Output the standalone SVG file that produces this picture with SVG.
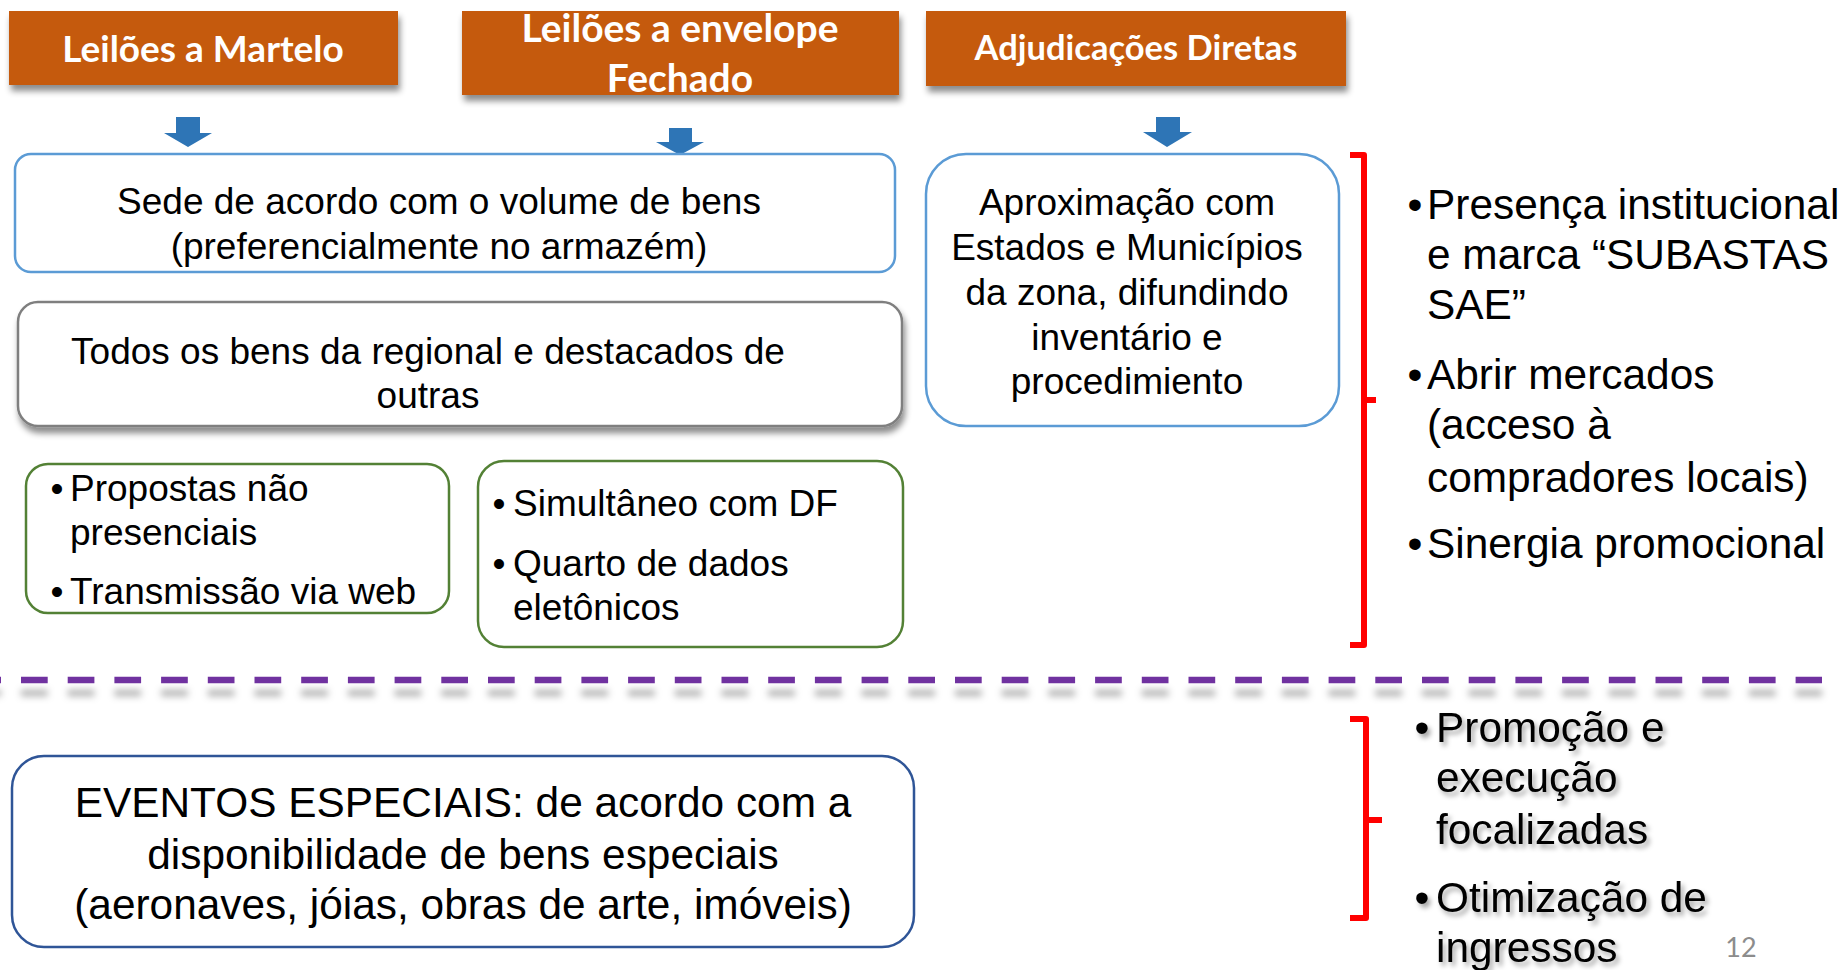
<svg xmlns="http://www.w3.org/2000/svg" width="1845" height="970" viewBox="0 0 1845 970">
<style>
.hdr{fill:#C55A11}
.ht{font-family:Lato,"Liberation Sans",sans-serif;font-weight:bold;fill:#FFFFFF;text-anchor:middle}
.t{font-family:"Liberation Sans",Arial,sans-serif;font-size:37px;fill:#000}
.tl{font-family:"Liberation Sans",Arial,sans-serif;font-size:42.4px;fill:#000}
.c{text-anchor:middle}
.arrow{fill:#2E75B6}
.br{fill:none;stroke:#FF0000;stroke-width:6;stroke-linejoin:round}
</style>
<defs>
<filter id="sh" x="-10%" y="-30%" width="120%" height="170%">
<feDropShadow dx="2" dy="6" stdDeviation="3" flood-color="#000" flood-opacity="0.45"/>
</filter>
<filter id="lsh" filterUnits="userSpaceOnUse" x="-40" y="660" width="1900" height="50">
<feDropShadow dx="0" dy="13" stdDeviation="3.5" flood-color="#000" flood-opacity="0.3"/>
</filter>
<filter id="tsh" x="-10%" y="-10%" width="120%" height="130%">
<feDropShadow dx="3" dy="4" stdDeviation="2.5" flood-color="#000" flood-opacity="0.35"/>
</filter>
</defs>
<rect width="1845" height="970" fill="#FFFFFF"/>

<g id="hdr-martelo">
<rect class="hdr" x="9" y="11" width="389" height="74" filter="url(#sh)"/>
<text class="ht" x="203" y="62" font-size="37">Leilões a Martelo</text>
</g>
<g id="hdr-envelope">
<rect class="hdr" x="462" y="11" width="437" height="84" filter="url(#sh)"/>
<text class="ht" x="680" y="42" font-size="39">Leilões a envelope</text>
<text class="ht" x="680" y="92" font-size="39">Fechado</text>
</g>
<g id="hdr-adjudicacoes">
<rect class="hdr" x="926" y="11" width="420" height="75" filter="url(#sh)"/>
<text class="ht" x="1136" y="60" font-size="34.5">Adjudicações Diretas</text>
</g>

<g id="connectors">
<path class="arrow" d="M176,117 H200 V133 H212 L188,147 L164,133 H176 Z"/>
<path class="arrow" d="M669,128 H692 V142 H704 L680,155 L656,142 H669 Z"/>
<path class="arrow" d="M1156,117 H1180 V132 H1192 L1167,147 L1143,132 H1156 Z"/>
</g>

<g id="sede">
<rect x="15" y="154" width="880" height="118" rx="16" fill="#FFFFFF" stroke="#5B9BD5" stroke-width="2.5"/>
<text class="t c" x="439" y="214">Sede de acordo com o volume de bens</text>
<text class="t c" x="439" y="259">(preferencialmente no armazém)</text>
</g>

<g id="todos">
<rect x="18" y="302" width="884" height="124" rx="20" fill="#FFFFFF" stroke="#7F7F7F" stroke-width="2.5" filter="url(#sh)"/>
<text class="t c" x="428" y="364">Todos os bens da regional e destacados de</text>
<text class="t c" x="428" y="408">outras</text>
</g>

<g id="propostas">
<rect x="26" y="464" width="423" height="149" rx="22" fill="#FFFFFF" stroke="#538135" stroke-width="2.5"/>
<text class="t c" x="57" y="501">•</text>
<text class="t" x="70" y="501">Propostas não</text>
<text class="t" x="70" y="545">presenciais</text>
<text class="t c" x="57" y="604">•</text>
<text class="t" x="70" y="604">Transmissão via web</text>
</g>

<g id="simultaneo">
<rect x="478" y="461" width="425" height="186" rx="26" fill="#FFFFFF" stroke="#538135" stroke-width="2.5"/>
<text class="t c" x="499" y="516">•</text>
<text class="t" x="513" y="516">Simultâneo com DF</text>
<text class="t c" x="499" y="576">•</text>
<text class="t" x="513" y="576">Quarto de dados</text>
<text class="t" x="513" y="620">eletônicos</text>
</g>

<g id="aproximacao">
<rect x="926" y="154" width="413" height="272" rx="40" fill="#FFFFFF" stroke="#5B9BD5" stroke-width="2.5"/>
<text class="t c" x="1127" y="215">Aproximação com</text>
<text class="t c" x="1127" y="260">Estados e Municípios</text>
<text class="t c" x="1127" y="305">da zona, difundindo</text>
<text class="t c" x="1127" y="350">inventário e</text>
<text class="t c" x="1127" y="394">procedimiento</text>
</g>

<g id="bracket-top">
<path class="br" d="M1350,155 H1364 V645 H1350 M1364,400 H1376"/>
</g>

<g id="beneficios">
<text class="tl c" x="1415" y="219">•</text>
<text class="tl" x="1427" y="219">Presença institucional</text>
<text class="tl" x="1427" y="269">e marca “SUBASTAS</text>
<text class="tl" x="1427" y="319">SAE”</text>
<text class="tl c" x="1415" y="389">•</text>
<text class="tl" x="1427" y="389">Abrir mercados</text>
<text class="tl" x="1427" y="439">(acceso à</text>
<text class="tl" x="1427" y="492">compradores locais)</text>
<text class="tl c" x="1415" y="558">•</text>
<text class="tl" x="1427" y="558">Sinergia promocional</text>
</g>

<g id="divider">
<line x1="-25.7" y1="680" x2="1822" y2="680" stroke="#7030A0" stroke-width="6.5" stroke-dasharray="26.7 20" filter="url(#lsh)"/>
</g>

<g id="eventos">
<rect x="12" y="756" width="902" height="191" rx="32" fill="#FFFFFF" stroke="#2F5597" stroke-width="2.5"/>
<text class="tl c" x="463" y="817">EVENTOS ESPECIAIS: de acordo com a</text>
<text class="tl c" x="463" y="869">disponibilidade de bens especiais</text>
<text class="tl c" x="463" y="919">(aeronaves, jóias, obras de arte, imóveis)</text>
</g>

<g id="bracket-bottom">
<path class="br" d="M1350,719 H1366 V918 H1350 M1366,820 H1382"/>
</g>

<g id="eventos-beneficios" filter="url(#tsh)">
<text class="tl c" x="1422" y="742">•</text>
<text class="tl" x="1436" y="742">Promoção e</text>
<text class="tl" x="1436" y="792">execução</text>
<text class="tl" x="1436" y="844">focalizadas</text>
<text class="tl c" x="1422" y="912">•</text>
<text class="tl" x="1436" y="912">Otimização de</text>
<text class="tl" x="1436" y="962">ingressos</text>
</g>

<g id="page-number">
<text x="1741" y="957" font-family="Lato,'Liberation Sans',sans-serif" font-size="27" fill="#8C8C8C" text-anchor="middle">12</text>
</g>
</svg>
